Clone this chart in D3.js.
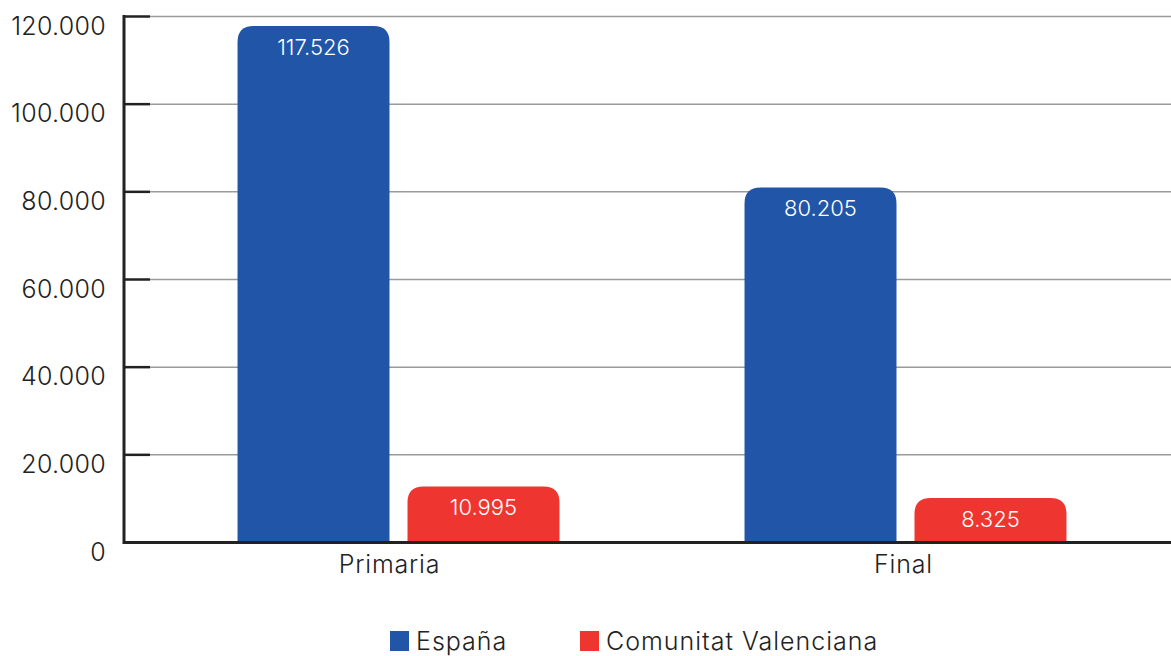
<!DOCTYPE html>
<html>
<head>
<meta charset="utf-8">
<script src="https://cdn.jsdelivr.net/npm/d3@7"></script>
<style>
  body { margin: 0; background: #fff; }
  text { font-family: "Inter", "Noto Sans", sans-serif; }
</style>
</head>
<body>
<div id="chart"></div>
<script>
// data
var categories = ["Primaria", "Final"];
var series = ["España", "Comunitat Valenciana"];
var espana = [117526, 80205];
var valenciana = [10995, 8325];
var yTicks = [0, 20000, 40000, 60000, 80000, 100000, 120000];
var colors = ["#2155a7", "#ee3530"];

var width = 1171, height = 656;
var margin = { top: 16.5, left: 124, right: 0, bottom: 113.5 };

var es = d3.formatLocale({ decimal: ",", thousands: ".", grouping: [3], currency: ["", "€"] });
var fmt = es.format(",d");

var rows = categories.map(function (c, i) {
  return { cat: c, values: [espana[i], valenciana[i]] };
});

var svg = d3.select("#chart").append("svg")
  .attr("width", width)
  .attr("height", height);

// axis scale
var y = d3.scaleLinear()
  .domain([0, 120000])
  .range([height - margin.bottom, margin.top]);

// the bars in the original sit on a base a little above the axis line
var yBar = d3.scaleLinear()
  .domain([0, 120000])
  .range([534, 15.4]);

var x0 = d3.scaleBand()
  .domain(categories)
  .range([145, 1159])
  .paddingInner(0.365)
  .paddingOuter(0.1825);

var x1 = d3.scaleBand()
  .domain(series)
  .range([0, x0.bandwidth()])
  .paddingInner(0.106);

// category labels are a bit off the group centres
var xLab = d3.scaleBand()
  .domain(categories)
  .range([132.5, 1160.5]);

// grid lines
svg.append("g")
  .selectAll("line")
  .data(yTicks.slice(1))
  .enter().append("line")
  .attr("x1", margin.left + 26)
  .attr("x2", width)
  .attr("y1", function (d) { return y(d); })
  .attr("y2", function (d) { return y(d); })
  .attr("stroke", "#9a9a9a")
  .attr("stroke-width", 1.5);

// bars with rounded tops
function topRounded(x, yTop, w, h, r) {
  r = Math.min(r, h, w / 2);
  return "M" + x + "," + (yTop + h) +
    "V" + (yTop + r) +
    "Q" + x + "," + yTop + " " + (x + r) + "," + yTop +
    "H" + (x + w - r) +
    "Q" + (x + w) + "," + yTop + " " + (x + w) + "," + (yTop + r) +
    "V" + (yTop + h) + "Z";
}

var groups = svg.selectAll(".grp")
  .data(rows)
  .enter().append("g")
  .attr("class", "grp")
  .attr("transform", function (d) { return "translate(" + x0(d.cat) + ",0)"; });

var bars = groups.selectAll(".bar")
  .data(function (d) {
    return d.values.map(function (v, i) { return { s: series[i], v: v, i: i }; });
  })
  .enter();

bars.append("path")
  .attr("class", "bar")
  .attr("fill", function (d) { return colors[d.i]; })
  .attr("d", function (d) {
    return topRounded(x1(d.s), yBar(d.v), x1.bandwidth(), y(0) - yBar(d.v), 16);
  });

bars.append("text")
  .attr("x", function (d) { return x1(d.s) + x1.bandwidth() / 2; })
  .attr("y", function (d) { return yBar(d.v) + 29; })
  .attr("text-anchor", "middle")
  .attr("fill", "#fff")
  .attr("font-size", 22)
  .attr("font-weight", 300)
  .text(function (d) { return fmt(d.v); });

// y axis
var yAxis = svg.append("g")
  .attr("transform", "translate(" + margin.left + ",0)");

yAxis.append("line")
  .attr("x1", 0).attr("x2", 0)
  .attr("y1", y(120000) - 1.5).attr("y2", y(0) + 1.5)
  .attr("stroke", "#222").attr("stroke-width", 3);

yAxis.selectAll(".tick")
  .data(yTicks)
  .enter().append("line")
  .attr("x1", 0).attr("x2", 26)
  .attr("y1", function (d) { return y(d); })
  .attr("y2", function (d) { return y(d); })
  .attr("stroke", "#222").attr("stroke-width", 2.5);

yAxis.selectAll(".ylab")
  .data(yTicks)
  .enter().append("text")
  .attr("x", -18)
  .attr("y", function (d) { return y(d) + 18; })
  .attr("text-anchor", "end")
  .attr("fill", "#222")
  .attr("font-size", 25)
  .attr("font-weight", 300)
  .attr("letter-spacing", 0.3)
  .text(function (d) { return fmt(d); });

// baseline
svg.append("line")
  .attr("x1", margin.left).attr("x2", width)
  .attr("y1", y(0)).attr("y2", y(0))
  .attr("stroke", "#222").attr("stroke-width", 3);

// category labels
svg.selectAll(".xlab")
  .data(categories)
  .enter().append("text")
  .attr("x", function (d) { return xLab(d) + xLab.bandwidth() / 2; })
  .attr("y", y(0) + 30)
  .attr("text-anchor", "middle")
  .attr("fill", "#222")
  .attr("font-size", 25)
  .attr("font-weight", 300)
  .attr("letter-spacing", 0.8)
  .text(function (d) { return d; });

// legend
var legendX = [390, 580];
var legend = svg.selectAll(".leg")
  .data(series)
  .enter().append("g")
  .attr("transform", function (d, i) { return "translate(" + legendX[i] + ",631)"; });

legend.append("rect")
  .attr("width", 19).attr("height", 20)
  .attr("fill", function (d, i) { return colors[i]; });

legend.append("text")
  .attr("x", 26)
  .attr("y", 19)
  .attr("fill", "#222")
  .attr("font-size", 25)
  .attr("font-weight", 300)
  .attr("letter-spacing", 1)
  .text(function (d) { return d; });
</script>
</body>
</html>
